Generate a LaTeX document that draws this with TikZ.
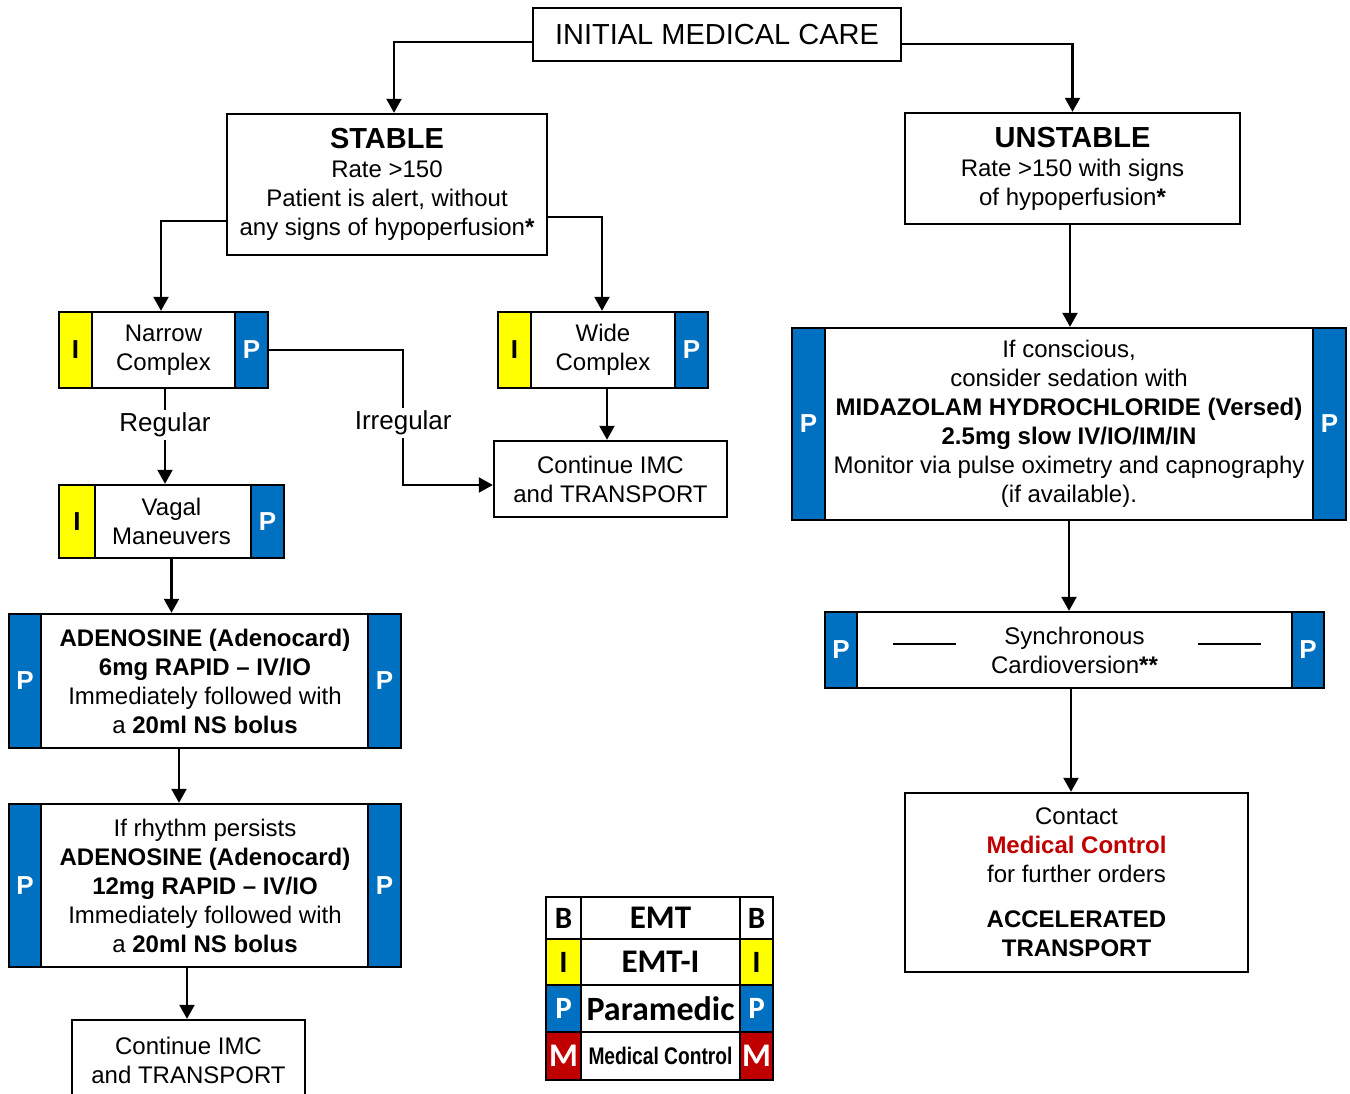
\documentclass[tikz,border=0pt]{standalone}
\usepackage{fontspec}
\setmainfont{Liberation Sans}
\newfontfamily\legfont{Carlito}
\usetikzlibrary{arrows.meta}
\definecolor{pblue}{HTML}{0070C0}
\definecolor{iyellow}{HTML}{FFFF00}
\definecolor{mred}{HTML}{C00000}
\newcommand{\bodyfs}{\fontsize{24}{29}\selectfont}
\begin{document}
\begin{tikzpicture}[x=1pt,y=-1pt,
  box/.style={draw, line width=2.4pt, fill=white, align=center, inner sep=0pt, font=\bodyfs},
  strip/.style={draw, line width=2.4pt, inner sep=0pt, minimum width=33pt, font=\fontsize{26}{26}\selectfont\bfseries},
  pstrip/.style={strip, fill=pblue, text=white},
  istrip/.style={strip, fill=iyellow, text=black},
  arr/.style={line width=2.2pt, -{Triangle[width=15pt,length=14pt]}},
  lab/.style={fill=white, inner sep=3pt, font=\fontsize{26}{26}\selectfont},
  legcell/.style={draw, line width=2.4pt, inner sep=0pt, font=\legfont\bfseries},
]
\useasboundingbox (0,0) rectangle (1350,1093);
\fill[white] (0,0) rectangle (1350,1093);

% top
\node[box, minimum width=368pt, minimum height=53pt, font=\fontsize{29}{29}\selectfont] (imc) at (717,34.5) {INITIAL MEDICAL CARE};
\node[box, minimum width=320pt, minimum height=141pt] (stable) at (387,184.5)
  {{\fontsize{29}{32}\selectfont\bfseries STABLE}\\Rate >150\\Patient is alert, without\\any signs of hypoperfusion\textbf{*}};
\node[box, minimum width=335pt, minimum height=111pt] (unstable) at (1072.5,168.5)
  {{\fontsize{29}{32}\selectfont\bfseries UNSTABLE}\\Rate >150 with signs\\of hypoperfusion\textbf{*}};

% narrow / wide
\node[box, minimum width=209pt, minimum height=76pt] (narrow) at (163.5,350) {Narrow\\Complex};
\node[istrip, minimum height=76pt, anchor=north west] (nI) at (narrow.north west) {I};
\node[pstrip, minimum height=76pt, anchor=north east] (nP) at (narrow.north east) {P};

\node[box, minimum width=210pt, minimum height=76pt] (wide) at (603,350) {Wide\\Complex};
\node[istrip, minimum height=76pt, anchor=north west] (wI) at (wide.north west) {I};
\node[pstrip, minimum height=76pt, anchor=north east] (wP) at (wide.north east) {P};

\node[box, minimum width=233pt, minimum height=76pt] (cont1) at (610.5,479) {Continue IMC\\and TRANSPORT};

\node[box, minimum width=225pt, minimum height=73pt] (vagal) at (171.5,521.5) {Vagal\\Maneuvers};
\node[istrip, minimum width=36pt, minimum height=73pt, anchor=north west] (vI) at (vagal.north west) {I};
\node[pstrip, minimum height=73pt, anchor=north east] (vP) at (vagal.north east) {P};

\node[box, minimum width=392pt, minimum height=134pt] (ad1) at (205,681)
  {\textbf{ADENOSINE (Adenocard)}\\\textbf{6mg RAPID -- IV/IO}\\Immediately followed with\\a \textbf{20ml NS bolus}};
\node[pstrip, minimum width=32pt, minimum height=134pt, anchor=north west] (a1L) at (ad1.north west) {P};
\node[pstrip, minimum height=134pt, anchor=north east] (a1R) at (ad1.north east) {P};

\node[box, minimum width=392pt, minimum height=163pt] (ad2) at (205,885.5)
  {If rhythm persists\\\textbf{ADENOSINE (Adenocard)}\\\textbf{12mg RAPID -- IV/IO}\\Immediately followed with\\a \textbf{20ml NS bolus}};
\node[pstrip, minimum width=32pt, minimum height=163pt, anchor=north west] (a2L) at (ad2.north west) {P};
\node[pstrip, minimum height=163pt, anchor=north east] (a2R) at (ad2.north east) {P};

\node[box, minimum width=233pt, minimum height=80pt] (cont2) at (188.5,1060) {Continue IMC\\and TRANSPORT};

% right column
\node[box, minimum width=554pt, minimum height=192pt] (mid) at (1069,424)
  {If conscious,\\consider sedation with\\\textbf{MIDAZOLAM HYDROCHLORIDE (Versed)}\\\textbf{2.5mg slow IV/IO/IM/IN}\\Monitor via pulse oximetry and capnography\\(if available).};
\node[pstrip, minimum height=192pt, anchor=north west] (mL) at (mid.north west) {P};
\node[pstrip, minimum height=192pt, anchor=north east] (mR) at (mid.north east) {P};

\node[box, minimum width=499pt, minimum height=76pt] (sync) at (1074.5,650) {Synchronous\\Cardioversion\textbf{**}};
\node[pstrip, minimum width=32pt, minimum height=76pt, anchor=north west] (sL) at (sync.north west) {P};
\node[pstrip, minimum width=32pt, minimum height=76pt, anchor=north east] (sR) at (sync.north east) {P};
\draw[line width=2.2pt] (893,644) -- (956,644);
\draw[line width=2.2pt] (1198,644) -- (1261,644);

\node[box, minimum width=343pt, minimum height=179pt] (contact) at (1076.5,882.5)
  {Contact\\\textcolor{mred}{\textbf{Medical Control}}\\for further orders\\[16pt]\textbf{ACCELERATED}\\\textbf{TRANSPORT}};

% legend
\node[legcell, fill=white, minimum width=35pt, minimum height=42pt, font=\legfont\bfseries\fontsize{31}{31}\selectfont] (lB1) at (563.5,918) {B};
\node[legcell, fill=white, minimum width=159pt, minimum height=42pt, font=\legfont\bfseries\fontsize{33}{33}\selectfont] (lEMT) at (660.5,918) {EMT};
\node[legcell, fill=white, minimum width=33pt, minimum height=42pt, font=\legfont\bfseries\fontsize{31}{31}\selectfont] (lB2) at (756.5,918) {B};

\node[legcell, fill=iyellow, minimum width=35pt, minimum height=46pt, font=\legfont\bfseries\fontsize{31}{31}\selectfont] (lI1) at (563.5,962) {I};
\node[legcell, fill=white, minimum width=159pt, minimum height=46pt, font=\legfont\bfseries\fontsize{33}{33}\selectfont] (lEMTI) at (660.5,962) {EMT-I};
\node[legcell, fill=iyellow, minimum width=33pt, minimum height=46pt, font=\legfont\bfseries\fontsize{31}{31}\selectfont] (lI2) at (756.5,962) {I};

\node[legcell, fill=pblue, text=white, minimum width=35pt, minimum height=47pt, font=\legfont\bfseries\fontsize{31}{31}\selectfont] (lP1) at (563.5,1008.5) {P};
\node[legcell, fill=white, minimum width=159pt, minimum height=47pt, font=\legfont\bfseries\fontsize{34}{34}\selectfont] (lPar) at (660.5,1008.5) {Paramedic};
\node[legcell, fill=pblue, text=white, minimum width=33pt, minimum height=47pt, font=\legfont\bfseries\fontsize{31}{31}\selectfont] (lP2) at (756.5,1008.5) {P};

\node[legcell, fill=mred, text=white, minimum width=35pt, minimum height=48pt, font=\legfont\bfseries\fontsize{33}{33}\selectfont] (lM1) at (563.5,1056) {M};
\node[legcell, fill=white, minimum width=159pt, minimum height=48pt, font=\bfseries\fontsize{24}{24}\selectfont] (lMC) at (660.5,1056) {\scalebox{0.8}[1]{Medical Control}};
\node[legcell, fill=mred, text=white, minimum width=33pt, minimum height=48pt, font=\legfont\bfseries\fontsize{33}{33}\selectfont] (lM2) at (756.5,1056) {M};

% connectors
\draw[arr] ([yshift=-7.5pt]imc.west) -| ([xshift=7pt]stable.north);
\draw[arr] ([yshift=-9.5pt]imc.east) -| (unstable.north);
\draw[arr] ([yshift=-36.5pt]stable.west) -| ([xshift=-2.5pt]narrow.north);
\draw[arr] ([yshift=-32.5pt]stable.east) -| ([xshift=-1pt]wide.north);
\draw[arr] ([xshift=1.5pt]narrow.south) -- ([xshift=1.5pt]narrow.south |- vagal.north) node[lab, pos=0.38] {Regular};
\draw[arr] (nP.east) -- ++(134,0) |- ([yshift=-6pt]cont1.west) node[lab, pos=0.27] {Irregular};
\draw[arr] ([xshift=4pt]wide.south) -- ([xshift=4pt]wide.south |- cont1.north);
\draw[arr] (vagal.south) -- (vagal.south |- ad1.north);
\draw[arr] ([xshift=-26pt]ad1.south) -- ([xshift=-26pt]ad1.south |- ad2.north);
\draw[arr] ([xshift=-18pt]ad2.south) -- ([xshift=-18pt]ad2.south |- cont2.north);
\draw[arr] ([xshift=-2.5pt]unstable.south) -- ([xshift=-2.5pt]unstable.south |- mid.north);
\draw[arr] (mid.south) -- (mid.south |- sync.north);
\draw[arr] ([xshift=-3.5pt]sync.south) -- ([xshift=-3.5pt]sync.south |- contact.north);
\end{tikzpicture}
\end{document}
